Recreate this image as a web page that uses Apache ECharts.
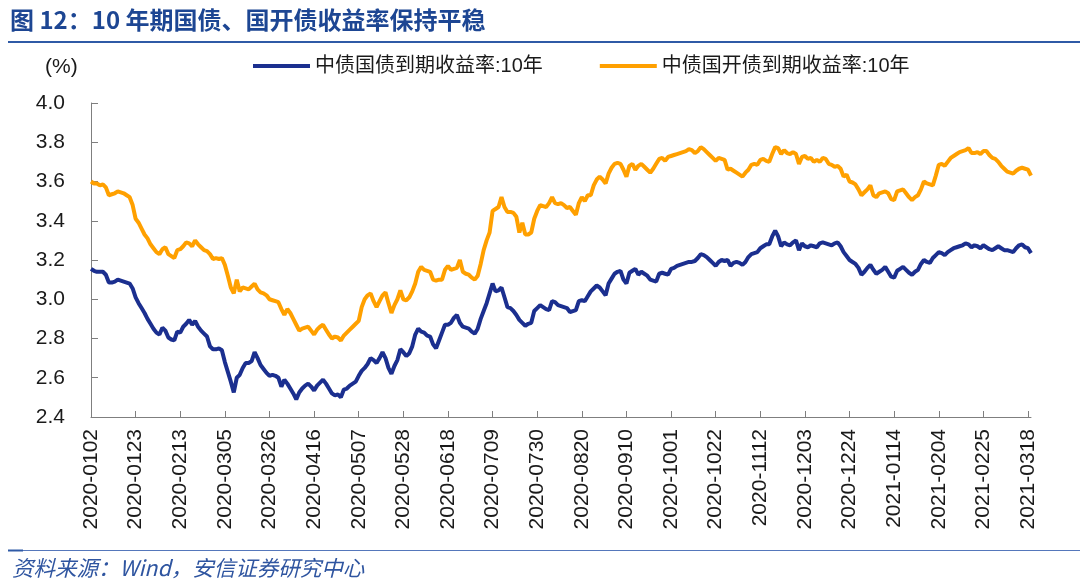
<!DOCTYPE html>
<html>
<head>
<meta charset="utf-8">
<script src="https://cdn.jsdelivr.net/npm/echarts@6/dist/echarts.min.js"></script>
<style>
html,body{margin:0;padding:0;background:#fff;}
#chart{width:1080px;height:587px;}
</style>
</head>
<body>
<div id="chart"></div>
<script>
// Series names
const seriesNames = ['中债国债到期收益率:10年', '中债国开债到期收益率:10年'];
// Y axis ticks
const yTicks = [2.4, 2.6, 2.8, 3.0, 3.2, 3.4, 3.6, 3.8, 4.0];
// First trading day shown; categories are consecutive weekdays from here
const startDay = '2020-01-02';

// 10Y treasury yield (blue)
const govBond = [
3.155,3.145,3.14,3.14,3.14,3.125,3.085,3.085,3.09,3.10,3.095,3.09,3.085,3.08,3.055,
3.01,2.98,2.955,2.93,2.90,2.875,2.85,2.83,2.82,2.855,2.84,2.805,2.795,2.79,2.835,
2.83,2.86,2.875,2.895,2.87,2.89,2.86,2.84,2.825,2.81,2.76,2.745,2.745,2.75,2.74,
2.68,2.63,2.58,2.525,2.60,2.615,2.65,2.675,2.675,2.685,2.73,2.70,2.665,2.645,2.625,
2.61,2.615,2.61,2.60,2.555,2.59,2.57,2.545,2.52,2.49,2.525,2.545,2.56,2.57,2.555,
2.535,2.56,2.575,2.59,2.57,2.545,2.52,2.51,2.515,2.50,2.54,2.545,2.56,2.57,2.58,
2.61,2.635,2.65,2.67,2.70,2.69,2.675,2.70,2.73,2.70,2.65,2.62,2.66,2.69,2.745,
2.73,2.71,2.725,2.76,2.82,2.85,2.835,2.83,2.815,2.81,2.77,2.75,2.79,2.83,2.87,
2.87,2.88,2.905,2.92,2.88,2.86,2.855,2.85,2.835,2.825,2.85,2.90,2.94,2.98,3.03,
3.08,3.04,3.045,3.06,3.01,2.96,2.955,2.94,2.92,2.895,2.88,2.865,2.875,2.88,2.94,
2.955,2.97,2.96,2.95,2.945,2.99,2.985,2.97,2.965,2.96,2.955,2.935,2.94,2.945,2.99,
2.995,2.99,3.015,3.04,3.055,3.07,3.06,3.04,3.02,3.08,3.105,3.13,3.14,3.145,3.10,
3.08,3.135,3.145,3.155,3.125,3.14,3.13,3.12,3.10,3.095,3.09,3.13,3.135,3.13,3.125,
3.155,3.16,3.17,3.175,3.18,3.185,3.19,3.19,3.195,3.21,3.23,3.225,3.215,3.20,3.185,
3.17,3.19,3.20,3.195,3.20,3.17,3.185,3.19,3.185,3.175,3.19,3.215,3.23,3.235,3.24,
3.26,3.27,3.28,3.28,3.32,3.35,3.32,3.27,3.29,3.28,3.275,3.29,3.30,3.25,3.285,
3.27,3.265,3.275,3.27,3.265,3.285,3.29,3.285,3.28,3.275,3.285,3.29,3.27,3.24,3.22,
3.20,3.19,3.18,3.16,3.125,3.14,3.16,3.175,3.15,3.13,3.14,3.15,3.165,3.14,3.115,
3.11,3.145,3.155,3.165,3.15,3.135,3.125,3.14,3.15,3.18,3.20,3.19,3.185,3.21,3.225,
3.24,3.235,3.225,3.24,3.25,3.26,3.265,3.27,3.275,3.285,3.28,3.265,3.275,3.27,3.26,
3.275,3.265,3.255,3.25,3.26,3.27,3.26,3.25,3.25,3.245,3.24,3.26,3.275,3.28,3.265,
3.26,3.235
];

// 10Y CDB bond yield (orange)
const cdbBond = [
3.60,3.59,3.59,3.58,3.585,3.57,3.53,3.535,3.54,3.55,3.545,3.54,3.53,3.52,3.48,
3.41,3.39,3.36,3.33,3.31,3.28,3.26,3.24,3.23,3.255,3.265,3.23,3.22,3.21,3.25,
3.255,3.27,3.29,3.285,3.27,3.30,3.28,3.265,3.25,3.245,3.23,3.205,3.21,3.205,3.21,
3.175,3.12,3.06,3.03,3.10,3.04,3.06,3.055,3.05,3.065,3.08,3.05,3.035,3.03,3.02,
3.00,2.995,2.99,2.985,2.95,2.92,2.95,2.93,2.90,2.87,2.84,2.85,2.855,2.86,2.84,
2.82,2.845,2.86,2.87,2.845,2.82,2.80,2.81,2.805,2.79,2.815,2.83,2.845,2.86,2.875,
2.89,2.96,3.00,3.02,3.03,2.99,2.96,2.99,3.02,3.035,2.98,2.93,2.97,3.00,3.045,
3.00,2.995,3.01,3.04,3.08,3.14,3.165,3.15,3.145,3.14,3.10,3.095,3.10,3.10,3.15,
3.17,3.15,3.155,3.16,3.20,3.14,3.13,3.125,3.11,3.10,3.12,3.18,3.25,3.30,3.34,
3.45,3.46,3.47,3.52,3.47,3.445,3.445,3.44,3.42,3.34,3.39,3.33,3.33,3.34,3.41,
3.45,3.48,3.475,3.47,3.49,3.52,3.49,3.485,3.49,3.48,3.465,3.47,3.45,3.43,3.49,
3.52,3.50,3.53,3.53,3.58,3.61,3.625,3.61,3.59,3.64,3.67,3.69,3.695,3.69,3.66,
3.625,3.68,3.69,3.66,3.68,3.69,3.675,3.66,3.645,3.665,3.69,3.715,3.72,3.705,3.725,
3.73,3.735,3.74,3.745,3.75,3.755,3.765,3.76,3.745,3.755,3.775,3.765,3.75,3.735,3.72,
3.705,3.72,3.715,3.71,3.66,3.665,3.655,3.645,3.635,3.625,3.645,3.66,3.685,3.69,3.685,
3.71,3.715,3.705,3.70,3.74,3.775,3.77,3.74,3.76,3.745,3.74,3.75,3.74,3.69,3.725,
3.73,3.715,3.72,3.70,3.71,3.70,3.72,3.715,3.69,3.685,3.675,3.68,3.665,3.625,3.635,
3.60,3.595,3.585,3.56,3.53,3.545,3.56,3.58,3.53,3.52,3.54,3.545,3.55,3.54,3.51,
3.505,3.55,3.555,3.56,3.54,3.52,3.505,3.52,3.53,3.56,3.60,3.59,3.585,3.58,3.63,
3.685,3.69,3.68,3.70,3.72,3.73,3.74,3.75,3.755,3.76,3.77,3.745,3.745,3.75,3.74,
3.755,3.755,3.735,3.72,3.715,3.70,3.68,3.665,3.65,3.645,3.64,3.655,3.665,3.67,3.665,
3.66,3.63
];

// Build weekday category labels like 2020-0102
const categories = [];
(function(){
  const p = startDay.split('-').map(Number);
  const d = new Date(Date.UTC(p[0], p[1]-1, p[2]));
  while (categories.length < govBond.length) {
    const wd = d.getUTCDay();
    if (wd !== 0 && wd !== 6) {
      const mm = String(d.getUTCMonth()+1).padStart(2,'0');
      const dd = String(d.getUTCDate()).padStart(2,'0');
      categories.push(d.getUTCFullYear() + '-' + mm + dd);
    }
    d.setUTCDate(d.getUTCDate()+1);
  }
})();

const chart = echarts.init(document.getElementById('chart'), null, {renderer:'canvas'});
const axisColor = '#7f7f7f';
const fontLatin = '"Liberation Sans", Arial, "Noto Sans CJK SC", sans-serif';
chart.setOption({
  animation: false,
  backgroundColor: '#ffffff',
  grid: {left: 91, right: 49, top: 103, bottom: 170, containLabel: false},
  legend: {
    left: 253, top: 56, padding: 0,
    itemWidth: 57, itemHeight: 4, itemGap: 57,
    icon: 'rect',
    textStyle: {fontSize: 20, color: '#1a1a1a', fontFamily: fontLatin},
    data: seriesNames
  },
  xAxis: {
    type: 'category',
    data: categories,
    boundaryGap: false,
    axisLine: {lineStyle: {color: axisColor, width: 1}},
    axisTick: {inside: true, length: 6, interval: 14, lineStyle: {color: axisColor}},
    axisLabel: {interval: 14, rotate: 90, margin: 12, fontSize: 21, color: '#1a1a1a', fontFamily: fontLatin},
    splitLine: {show: false}
  },
  yAxis: {
    type: 'value',
    min: yTicks[0], max: yTicks[yTicks.length-1], interval: 0.2,
    axisLine: {show: true, lineStyle: {color: axisColor, width: 1}},
    axisTick: {show: true, inside: true, length: 7, lineStyle: {color: axisColor}},
    axisLabel: {margin: 26, fontSize: 21, color: '#1a1a1a', fontFamily: fontLatin,
      formatter: v => v.toFixed(1)},
    splitLine: {show: false}
  },
  series: [
    {name: seriesNames[0], type: 'line', data: govBond, symbol: 'none',
      lineStyle: {color: '#1b2f8f', width: 4}, itemStyle: {color: '#1b2f8f'}},
    {name: seriesNames[1], type: 'line', data: cdbBond, symbol: 'none',
      lineStyle: {color: '#ffa000', width: 4}, itemStyle: {color: '#ffa000'}}
  ],
  graphic: [
    {type: 'text', left: 10, top: 8,
      style: {text: '图 12：10 年期国债、国开债收益率保持平稳', fill: '#1d4693',
        font: 'bold 24px "Noto Sans CJK SC", "Liberation Sans", sans-serif'}},
    {type: 'rect', shape: {x: 8, y: 41, width: 1072, height: 2}, style: {fill: '#2f5aa6'}},
    {type: 'text', left: 45, top: 57,
      style: {text: '(%)', fill: '#1a1a1a', font: '21px "Liberation Sans", Arial, sans-serif'}},
    {type: 'rect', shape: {x: 8, y: 550, width: 1072, height: 1}, style: {fill: '#5577bb'}},
    {type: 'rect', shape: {x: 8, y: 549.5, width: 15, height: 2}, style: {fill: '#2f5aa6'}},
    {type: 'text', left: 12, top: 557,
      style: {text: '资料来源：Wind，安信证券研究中心', fill: '#2f55a0',
        font: 'italic 21.5px "Noto Sans CJK SC", "Liberation Sans", sans-serif'}}
  ]
});
</script>
</body>
</html>
